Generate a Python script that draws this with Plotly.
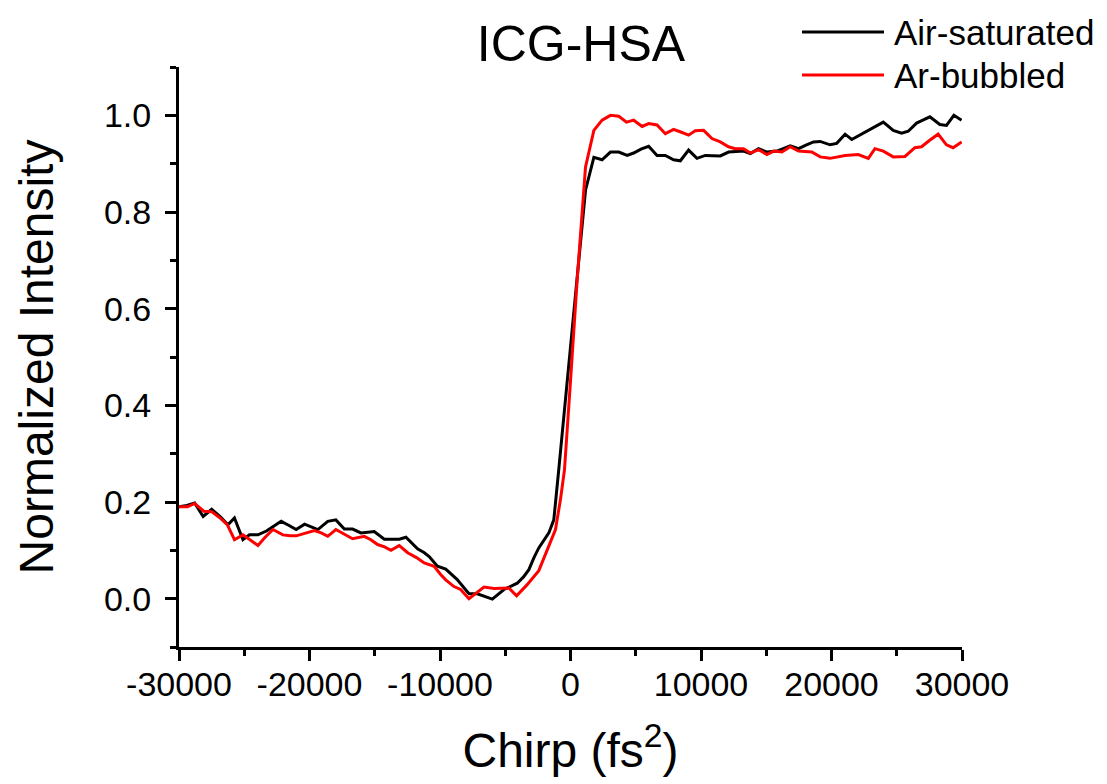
import plotly.graph_objects as go

# Air-saturated (black)
air_x = [-30000, -29400, -28800, -28150, -27500, -26850, -26250, -25750, -25100, -24600,
         -23950, -23300, -22750, -22170, -21600, -21020, -20380, -19800, -19360, -18600,
         -17980, -17330, -16700, -16060, -15500, -15040, -14270, -13700, -13120, -12610,
         -11720, -11200, -10830, -10200, -9560, -8700, -7780, -7140, -6600, -5990,
         -5100, -4600, -4080, -3600, -3190, -2800, -2430, -1660, -1280, -900,
         -500, 0, 510, 1150, 1790, 2420, 3060, 3700, 4340, 4840,
         5400, 5990, 6630, 7270, 7900, 8420, 9050, 9690, 10330, 10900,
         11480, 12110, 12700, 13260, 13780, 14410, 15050, 15820, 16840, 17470,
         18000, 18620, 19130, 19890, 20400, 21040, 21550, 22200, 22820, 23400,
         23970, 24730, 25370, 25880, 26520, 27000, 27540, 28300, 28810, 29380, 29970]
air_y = [0.190, 0.193, 0.198, 0.170, 0.185, 0.170, 0.153, 0.167, 0.122, 0.132,
         0.132, 0.140, 0.150, 0.160, 0.152, 0.143, 0.154, 0.147, 0.143, 0.160,
         0.163, 0.144, 0.144, 0.136, 0.138, 0.139, 0.123, 0.123, 0.123, 0.127,
         0.103, 0.095, 0.087, 0.067, 0.061, 0.040, 0.010, 0.010, 0.005, -0.001,
         0.019, 0.025, 0.032, 0.045, 0.060, 0.085, 0.105, 0.136, 0.163, 0.267,
         0.380, 0.520, 0.673, 0.845, 0.913, 0.908, 0.924, 0.924, 0.917, 0.922,
         0.930, 0.936, 0.917, 0.917, 0.908, 0.906, 0.928, 0.911, 0.917, 0.916,
         0.916, 0.924, 0.925, 0.926, 0.921, 0.931, 0.924, 0.926, 0.937, 0.931,
         0.938, 0.945, 0.946, 0.939, 0.942, 0.961, 0.950, 0.960, 0.970, 0.978,
         0.986, 0.969, 0.963, 0.967, 0.984, 0.990, 0.997, 0.981, 0.979, 1.000, 0.990]

# Ar-bubbled (red)
ar_x = [-30000, -29350, -28800, -28100, -27500, -26900, -26300, -25750, -25100, -24500,
        -23950, -23400, -22800, -22040, -21500, -21020, -20300, -19620, -19100, -18600,
        -17980, -17330, -16700, -15800, -15300, -14780, -14250, -13760, -13120, -12480,
        -11800, -11210, -10450, -9950, -9560, -8930, -8420, -7780, -7200, -6630,
        -5860, -5300, -4720, -4130, -3320, -2430, -1790, -1150, -770, -460,
        0, 510, 1150, 1790, 2420, 3060, 3700, 4290, 4840, 5490,
        5990, 6630, 7270, 7900, 8500, 9050, 9560, 10200, 10840, 11480,
        12110, 12620, 13260, 13780, 14410, 15050, 15570, 16200, 16840, 17470,
        18490, 19130, 19890, 20500, 21040, 22050, 22820, 23330, 23970, 24730,
        25630, 26390, 26900, 27500, 28170, 28810, 29320, 29970]
ar_y = [0.190, 0.190, 0.197, 0.181, 0.180, 0.168, 0.153, 0.122, 0.132, 0.120,
        0.110, 0.127, 0.143, 0.132, 0.130, 0.130, 0.136, 0.141, 0.136, 0.129,
        0.143, 0.133, 0.124, 0.129, 0.122, 0.112, 0.107, 0.100, 0.110, 0.095,
        0.085, 0.074, 0.067, 0.050, 0.039, 0.025, 0.019, 0.000, 0.013, 0.024,
        0.021, 0.022, 0.022, 0.006, 0.029, 0.058, 0.101, 0.143, 0.205, 0.267,
        0.450, 0.659, 0.893, 0.969, 0.990, 1.000, 0.998, 0.986, 0.990, 0.977,
        0.983, 0.980, 0.962, 0.971, 0.965, 0.959, 0.968, 0.969, 0.952, 0.945,
        0.935, 0.931, 0.931, 0.922, 0.929, 0.919, 0.926, 0.924, 0.935, 0.926,
        0.924, 0.914, 0.911, 0.914, 0.917, 0.919, 0.911, 0.931, 0.926, 0.914,
        0.915, 0.933, 0.935, 0.948, 0.961, 0.939, 0.933, 0.945]

series_names = ["Air-saturated", "Ar-bubbled"]
series_colors = ["#000000", "#ff0000"]

x_ticks = [-30000, -20000, -10000, 0, 10000, 20000, 30000]
y_ticks = [0.0, 0.2, 0.4, 0.6, 0.8, 1.0]

FONT = "Liberation Sans, Arial, sans-serif"
OFF = 8  # default page body margin
W, H = 1107 - OFF, 784 - OFF
ML, MT = 179 - OFF, 67 - OFF
MR = W - (962 - OFF)
MB = H - (647 - OFF)
PW, PH = W - ML - MR, H - MT - MB


def px_to_paper_x(px):
    return (px - OFF - ML) / PW


def px_to_paper_y(py):
    return (H - MB - (py - OFF)) / PH


fig = go.Figure()
for xs, ys, name, col in [(air_x, air_y, series_names[0], series_colors[0]),
                          (ar_x, ar_y, series_names[1], series_colors[1])]:
    fig.add_trace(go.Scatter(x=xs, y=ys, mode="lines", name=name,
                             line=dict(color=col, width=3), showlegend=False))

# Legend drawn as key lines + labels (Origin-style long keys)
legend_rows_py = [32, 75]
for name, col, py in zip(series_names, series_colors, legend_rows_py):
    fig.add_shape(type="line", xref="paper", yref="paper",
                  x0=px_to_paper_x(802), x1=px_to_paper_x(884),
                  y0=px_to_paper_y(py), y1=px_to_paper_y(py),
                  line=dict(color=col, width=3))
    fig.add_annotation(text=name, xref="paper", yref="paper",
                       x=px_to_paper_x(892), y=px_to_paper_y(py),
                       xanchor="left", yanchor="middle", showarrow=False,
                       font=dict(size=35, family=FONT, color="black"))

fig.update_layout(
    width=W, height=H,
    margin=dict(l=ML, r=MR, t=MT, b=MB),
    paper_bgcolor="white", plot_bgcolor="white",
    font=dict(family=FONT, color="black"),
    title=dict(text="ICG-HSA", x=(581 - OFF) / W, xanchor="center",
               y=1 - (43 - OFF) / H, yanchor="middle", font=dict(size=50, family=FONT)),
    showlegend=False,
    xaxis=dict(range=[-30000, 30000], tickvals=x_ticks,
               ticktext=[str(v) for v in x_ticks], automargin=False,
               showgrid=False, zeroline=False, showline=True, linecolor="black",
               linewidth=3, ticks="outside", ticklen=11, tickwidth=3, tickcolor="black",
               tickfont=dict(size=34, family=FONT), ticklabelstandoff=-6,
               minor=dict(dtick=5000, tick0=-30000, ticks="outside", ticklen=6,
                          tickwidth=3, tickcolor="black", showgrid=False),
               title=dict(text="Chirp (fs<sup>2</sup>)", font=dict(size=48, family=FONT),
                          standoff=32)),
    yaxis=dict(range=[-0.1, 1.1], tickvals=y_ticks,
               ticktext=[f"{v:.1f}" for v in y_ticks], automargin=False,
               showgrid=False, zeroline=False, showline=True, linecolor="black",
               linewidth=3, ticks="outside", ticklen=11, tickwidth=3, tickcolor="black",
               tickfont=dict(size=34, family=FONT), ticklabelstandoff=7,
               minor=dict(dtick=0.1, tick0=0, ticks="outside", ticklen=6,
                          tickwidth=3, tickcolor="black", showgrid=False),
               title=dict(text="Normalized Intensity", font=dict(size=48, family=FONT),
                          standoff=36)),
)

fig.write_html("out.html")
